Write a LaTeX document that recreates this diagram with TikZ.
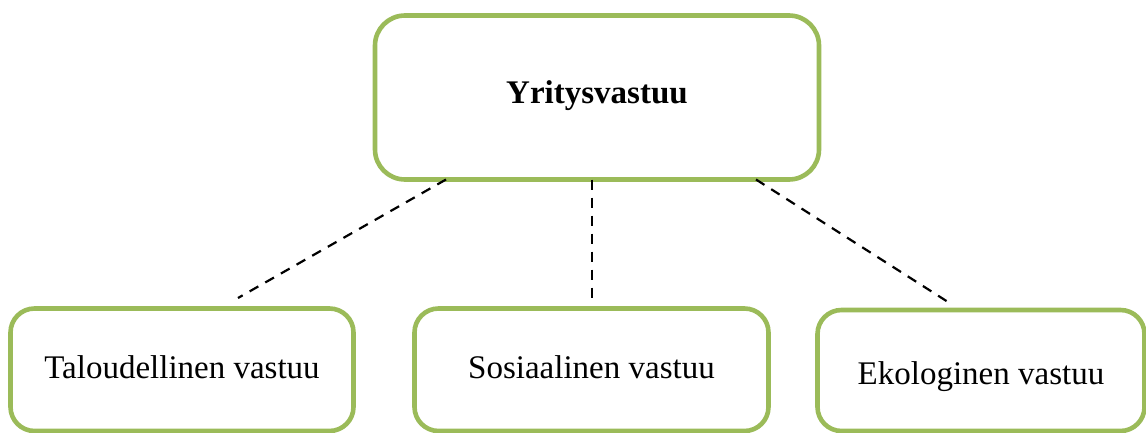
\documentclass[tikz,border=0pt]{standalone}
\usepackage{fontspec}
\setmainfont{Liberation Serif}
\definecolor{boxgreen}{HTML}{9BBB59}
\begin{document}
\begin{tikzpicture}[x=1pt,y=1pt,
  box/.style={draw=boxgreen, line width=4.6pt, rounded corners=24pt, fill=white,
    inner sep=0pt, outer sep=0pt, align=center,
    font=\fontsize{33}{38}\selectfont},
  link/.style={line width=2.2pt, dash pattern=on 10pt off 8pt}]
\useasboundingbox (0,0) rectangle (1146,432);
\node[box, rounded corners=30pt, minimum width=444pt, minimum height=164pt,
  text height=22pt, text depth=9pt,
  font=\fontsize{33}{38}\selectfont\bfseries] (top) at (597,334.5) {Yritysvastuu};
\node[box, minimum width=343pt, minimum height=122.5pt,
  text height=24pt, text depth=6pt] (tal) at (182,62.25) {Taloudellinen vastuu};
\node[box, minimum width=354pt, minimum height=122.5pt,
  text height=24pt, text depth=6pt] (sos) at (591.5,62.25) {Sosiaalinen vastuu};
\node[box, minimum width=327pt, minimum height=121pt,
  text height=30pt, text depth=3pt] (eko) at (981,61.5) {Ekologinen vastuu};
\coordinate (xl) at (446,0);
\coordinate (xm) at (592,0);
\coordinate (xr) at (756,0);
\coordinate (el) at (238,134);
\coordinate (em) at (592,134);
\coordinate (er) at (948,130);
\draw[link] (top.south -| xl) -- (el);
\draw[link] (top.south -| xm) -- (em);
\draw[link] (top.south -| xr) -- (er);
\end{tikzpicture}
\end{document}
